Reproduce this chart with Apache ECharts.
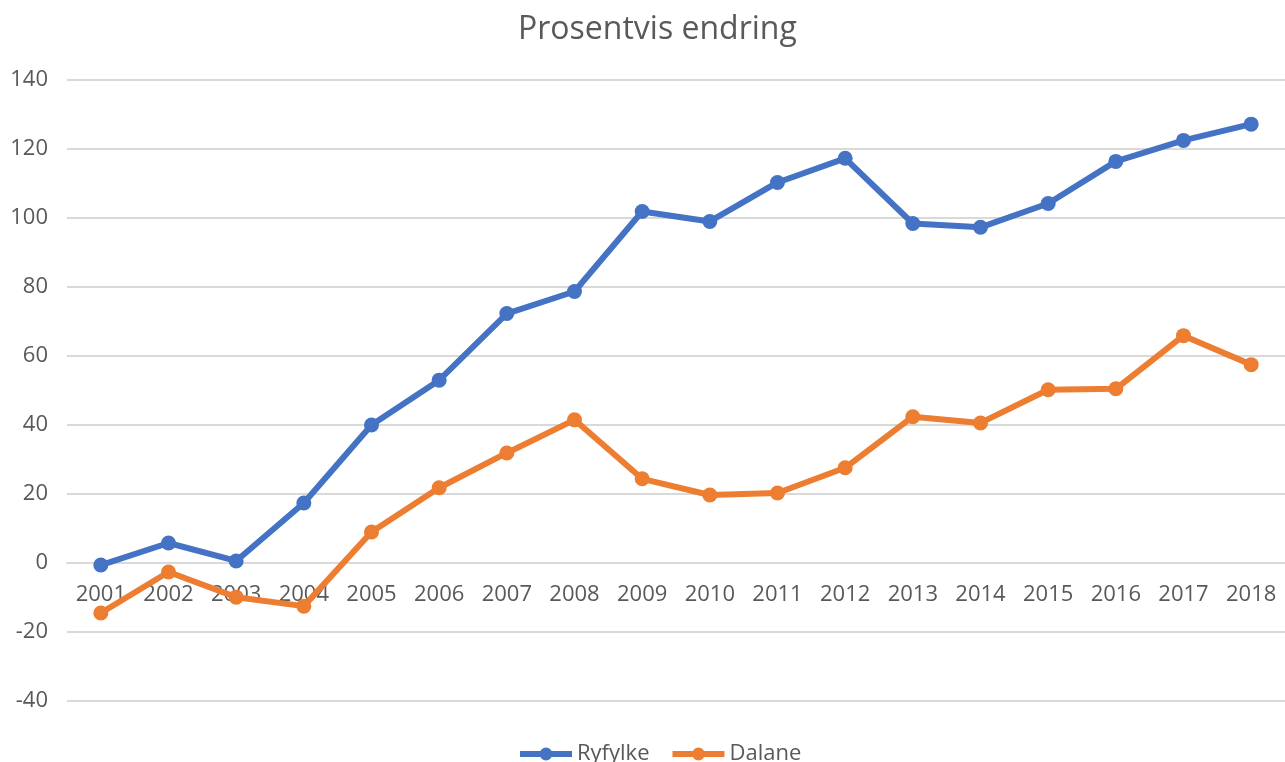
<!DOCTYPE html>
<html>
<head>
<meta charset="utf-8">
<script src="https://cdn.jsdelivr.net/npm/echarts@6/dist/echarts.min.js"></script>
<style>
  html, body { margin: 0; padding: 0; background: #fff; }
  #chart { width: 1285px; height: 762px; }
</style>
</head>
<body>
<div id="chart"></div>
<script>
const years = ['2001', '2002', '2003', '2004', '2005', '2006', '2007', '2008', '2009',
  '2010', '2011', '2012', '2013', '2014', '2015', '2016', '2017', '2018'];
const ryfylke = [-0.6, 5.8, 0.6, 17.4, 40.0, 53.0, 72.3, 78.7, 101.9,
  99.0, 110.3, 117.3, 98.4, 97.3, 104.2, 116.4, 122.5, 127.2];
const dalane = [-14.5, -2.6, -9.9, -12.5, 9.0, 21.8, 31.9, 41.5, 24.4,
  19.7, 20.3, 27.6, 42.4, 40.6, 50.2, 50.5, 65.9, 57.5];

const chart = echarts.init(document.getElementById('chart'));

const font = 'Open Sans';
const grey = '#595959';

const option = {
  animation: false,
  backgroundColor: '#fff',
  title: {
    text: 'Prosentvis endring',
    left: 513,
    top: 9,
    textStyle: { color: grey, fontSize: 32, fontWeight: 'normal', fontFamily: font }
  },
  legend: {
    data: ['Ryfylke', 'Dalane'],
    left: 512,
    top: 738,
    itemWidth: 52,
    itemHeight: 16,
    itemGap: 20,
    lineStyle: { width: 6 },
    textStyle: { color: grey, fontSize: 22, fontFamily: font }
  },
  grid: {
    left: 67,
    right: -8,
    top: 80,
    bottom: 61,
    containLabel: false
  },
  xAxis: {
    type: 'category',
    data: years,
    boundaryGap: true,
    offset: -138,
    axisLine: { onZero: false, lineStyle: { color: '#d9d9d9', width: 2 } },
    axisTick: { show: false },
    axisLabel: { color: grey, fontSize: 22, fontFamily: font, margin: 21 }
  },
  yAxis: {
    type: 'value',
    min: -40,
    max: 140,
    interval: 20,
    axisLine: { show: false },
    axisTick: { show: false },
    axisLabel: { color: grey, fontSize: 22, fontFamily: font, margin: 19 },
    splitLine: { lineStyle: { color: '#d9d9d9', width: 2 } }
  },
  series: [
    {
      name: 'Ryfylke',
      type: 'line',
      data: ryfylke,
      symbol: 'circle',
      symbolSize: 15,
      lineStyle: { width: 6, color: '#4472C4' },
      itemStyle: { color: '#4472C4' }
    },
    {
      name: 'Dalane',
      type: 'line',
      data: dalane,
      symbol: 'circle',
      symbolSize: 15,
      lineStyle: { width: 6, color: '#ED7D31' },
      itemStyle: { color: '#ED7D31' }
    }
  ]
};

chart.setOption(option);

window.addEventListener('resize', function () {
  chart.resize();
});
</script>
</body>
</html>
